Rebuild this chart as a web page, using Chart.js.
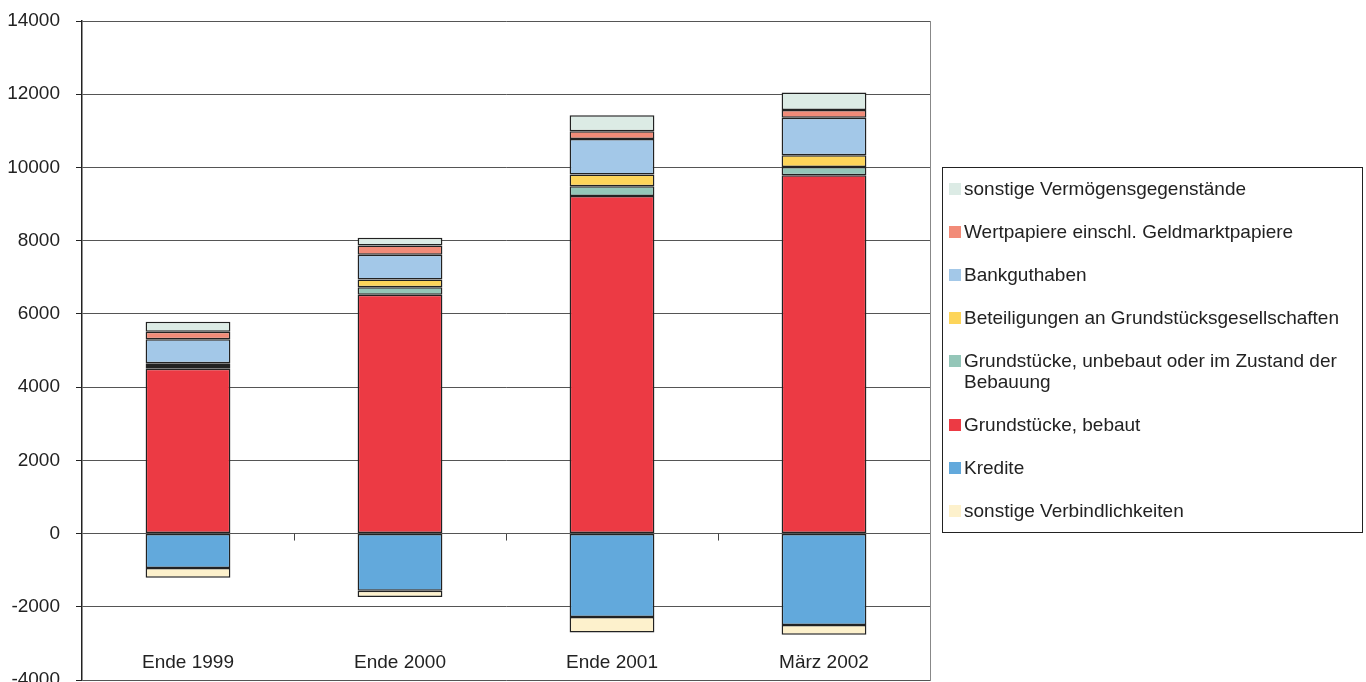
<!DOCTYPE html>
<html>
<head>
<meta charset="utf-8">
<script src="https://cdn.jsdelivr.net/npm/chart.js@4"></script>
<style>
  html, body { margin: 0; padding: 0; background: #fff; }
  #wrap { position: absolute; left: 0; top: 0; width: 1366px; height: 682px; }
  #legend {
    position: absolute; left: 942px; top: 167px; width: 419px; height: 364px;
    border: 1.5px solid #222; box-sizing: content-box;
    font-family: "Liberation Sans", Arial, Helvetica, sans-serif; font-size: 19px; color: #222;
  }
  #legend ul { list-style: none; margin: 0; padding: 10px 0 0 6px; }
  #legend li { display: flex; align-items: flex-start; line-height: 21px; margin-bottom: 22px; }
  #legend .sw { flex: 0 0 12px; width: 12px; height: 12px; margin-top: 5px; margin-right: 3px; }
</style>
</head>
<body>
<div id="wrap"><canvas id="c"></canvas></div>
<div id="legend"></div>
<script>
const categories = ['Ende 1999', 'Ende 2000', 'Ende 2001', 'März 2002'];
const grundstueckeBebaut = [4500, 6520, 9220, 9790];
const grundstueckeUnbebaut = [75, 210, 265, 220];
const beteiligungen = [78, 210, 320, 320];
const bankguthaben = [656, 674, 973, 1030];
const wertpapiere = [202, 255, 210, 210];
const sonstigeVermoegen = [273, 210, 437, 474];
const kredite = [-940, -1560, -2280, -2500];
const sonstigeVerbindlichkeiten = [-265, -175, -425, -265];

const FONT = '"Liberation Sans", Arial, Helvetica, sans-serif';

function ds(label, data, color) {
  return { label, data, backgroundColor: color, borderColor: '#222', borderWidth: 1.5,
           borderSkipped: false, stack: 's', barPercentage: 0.4, categoryPercentage: 1.0 };
}

const datasets = [
  ds('Grundstücke, bebaut', grundstueckeBebaut, '#ec3a44'),
  ds('Grundstücke, unbebaut oder im Zustand der Bebauung', grundstueckeUnbebaut, '#94c6b8'),
  ds('Beteiligungen an Grundstücksgesellschaften', beteiligungen, '#fdd55a'),
  ds('Bankguthaben', bankguthaben, '#a3c8e8'),
  ds('Wertpapiere einschl. Geldmarktpapiere', wertpapiere, '#f28b78'),
  ds('sonstige Vermögensgegenstände', sonstigeVermoegen, '#dcebe5'),
  ds('Kredite', kredite, '#62a9dc'),
  ds('sonstige Verbindlichkeiten', sonstigeVerbindlichkeiten, '#fdf1cc')
];
const legendOrder = [5, 4, 3, 2, 1, 0, 6, 7];

const catTicks = {
  id: 'catTicks',
  afterDatasetsDraw(chart) {
    const x = chart.scales.x, y = chart.scales.y, ctx = chart.ctx;
    const y0 = y.getPixelForValue(0);
    ctx.save();
    ctx.strokeStyle = '#444';
    ctx.lineWidth = 1;
    for (let i = 1; i < categories.length; i++) {
      const px = Math.round((x.getPixelForValue(i - 1) + x.getPixelForValue(i)) / 2) + 0.5;
      ctx.beginPath(); ctx.moveTo(px, y0); ctx.lineTo(px, y0 + 7); ctx.stroke();
    }
    ctx.restore();
  }
};

new Chart(document.getElementById('c'), {
  type: 'bar',
  data: { labels: categories, datasets },
  options: {
    responsive: true, maintainAspectRatio: false, animation: false,
    layout: { padding: { left: 7, top: 21, right: 436, bottom: 2 } },
    plugins: { legend: { display: false }, tooltip: { enabled: false } },
    scales: {
      x: {
        stacked: true,
        grid: { display: false },
        border: { display: false },
        ticks: { font: { family: FONT, size: 19 }, color: '#222', padding: 6, mirror: true, maxRotation: 0 },
        afterFit(scale) { scale.height = 0; scale.paddingLeft = 0; scale.paddingRight = 0; }
      },
      y: {
        stacked: true, min: -4000, max: 14000,
        ticks: { stepSize: 2000, font: { family: FONT, size: 19 }, color: '#222', padding: 16,
                 callback: v => String(v) },
        grid: { color: '#555', lineWidth: 1, tickLength: 6, tickColor: '#222' },
        border: { color: '#222', width: 1.5 },
        afterFit(scale) { scale.width = 75; scale.paddingTop = 0; scale.paddingBottom = 0; }
      },
      y2: {
        position: 'right', min: -4000, max: 14000,
        ticks: { display: false },
        grid: { drawOnChartArea: false, drawTicks: false },
        border: { color: '#888', width: 1 },
        afterFit(scale) { scale.paddingTop = 0; scale.paddingBottom = 0; }
      }
    }
  },
  plugins: [catTicks]
});

const lg = document.getElementById('legend');
const ul = document.createElement('ul');
legendOrder.forEach(i => {
  const li = document.createElement('li');
  const sw = document.createElement('span');
  sw.className = 'sw';
  sw.style.background = datasets[i].backgroundColor;
  const tx = document.createElement('span');
  tx.textContent = datasets[i].label;
  li.appendChild(sw); li.appendChild(tx);
  ul.appendChild(li);
});
lg.appendChild(ul);
</script>
</body>
</html>
